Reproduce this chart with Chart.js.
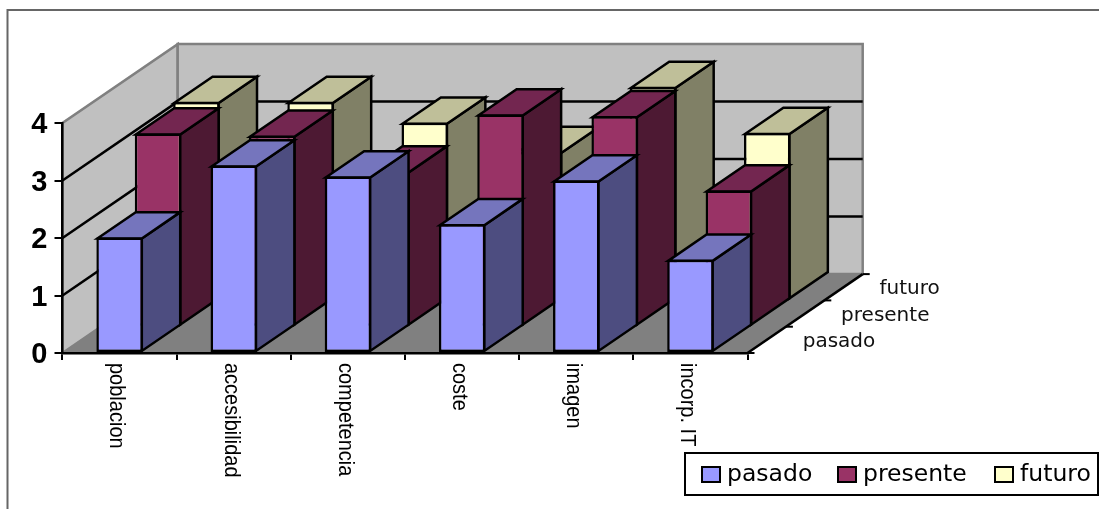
<!DOCTYPE html>
<html>
<head>
<meta charset="utf-8">
<title>Grafico 3D</title>
<style>
  html, body { margin: 0; padding: 0; background: #fff; }
  canvas { display: block; }
</style>
<script src="https://cdn.jsdelivr.net/npm/chart.js@4"></script>
</head>
<body>
<canvas id="chart" width="1099" height="509"></canvas>
<script>
const categorias = ['poblacion', 'accesibilidad', 'competencia', 'coste', 'imagen', 'incorp. IT'];
const filas = ['pasado', 'presente', 'futuro'];
const pasado = [2.01, 3.26, 3.07, 2.24, 3.0, 1.62];
const presente = [3.36, 3.32, 2.7, 3.69, 3.66, 2.37];
const futuro = [3.45, 3.45, 3.09, 2.58, 3.71, 2.91];

// frente, tapa y lateral de cada serie
const colores = [
    { frente: '#9999ff', tapa: '#7575bd', lado: '#4d4d80' },
    { frente: '#993366', tapa: '#732650', lado: '#4d1933' },
    { frente: '#ffffcc', tapa: '#bfbf99', lado: '#808066' }
];

// desplazamiento de perspectiva por cada fila de profundidad
const DX = 38.4;
const DY = -26.3;

function poly(ctx, pts, fill, stroke, lw) {
    ctx.beginPath();
    pts.forEach((p, i) => i ? ctx.lineTo(p[0], p[1]) : ctx.moveTo(p[0], p[1]));
    ctx.closePath();
    ctx.fillStyle = fill;
    ctx.fill();
    if (stroke) {
        ctx.strokeStyle = stroke;
        ctx.lineWidth = lw;
        ctx.lineJoin = 'miter';
        ctx.stroke();
    }
}

function line(ctx, x1, y1, x2, y2, color, lw) {
    ctx.beginPath();
    ctx.moveTo(x1, y1);
    ctx.lineTo(x2, y2);
    ctx.strokeStyle = color;
    ctx.lineWidth = lw;
    ctx.stroke();
}

const fondo3d = {
    id: 'fondo3d',
    beforeDraw(chart) {
        const { ctx, chartArea: a, scales: { y } } = chart;
        const bx = DX * filas.length, by = DY * filas.length;
        ctx.save();

        // marco exterior
        ctx.beginPath();
        ctx.moveTo(7.5, 509);
        ctx.lineTo(7.5, 10);
        ctx.lineTo(1099, 10);
        ctx.strokeStyle = '#666666';
        ctx.lineWidth = 2;
        ctx.stroke();

        const y0 = y.getPixelForValue(0), yMax = y.getPixelForValue(4);

        // paredes y suelo
        poly(ctx, [[a.left, y0], [a.left, yMax], [a.left + bx, yMax + by], [a.left + bx, y0 + by]], '#c0c0c0', '#808080', 2.5);
        poly(ctx, [[a.left + bx, yMax + by], [a.right + bx, yMax + by], [a.right + bx, y0 + by], [a.left + bx, y0 + by]], '#c0c0c0', '#808080', 2.5);
        poly(ctx, [[a.left, y0], [a.left + bx, y0 + by], [a.right + bx, y0 + by], [a.right, y0]], '#808080');

        // rejilla
        [1, 2, 3].forEach(v => {
            const py = y.getPixelForValue(v);
            line(ctx, a.left, py, a.left + bx, py + by, '#000', 2.5);
            line(ctx, a.left + bx, py + by, a.right + bx, py + by, '#000', 2.5);
        });

        // eje de profundidad
        line(ctx, a.right, y0, a.right + bx, y0 + by, '#000', 2.5);
        for (let i = 0; i <= filas.length; i++) {
            const tx = a.right + DX * i, ty = y0 + DY * i;
            line(ctx, tx, ty, tx + 7, ty, '#000', 2);
        }
        ctx.restore();
    },
    beforeDatasetDraw(chart, args) {
        const { ctx } = chart;
        const c = colores[args.index];
        ctx.save();
        ctx.translate(DX * args.index, DY * args.index);
        args.meta.data.forEach(el => {
            const l = el.x - el.width / 2 + 1, r = el.x + el.width / 2 - 1;
            const t = el.y + 1, b = el.base - 1;
            poly(ctx, [[r, t], [r + DX, t + DY], [r + DX, b + DY], [r, b]], c.lado, '#000', 2.5);
            poly(ctx, [[l, t], [l + DX, t + DY], [r + DX, t + DY], [r, t]], c.tapa, '#000', 2.5);
        });
    },
    afterDatasetDraw(chart) {
        chart.ctx.restore();
    },
    afterDraw(chart) {
        const { ctx, scales: { x, y } } = chart;
        const y0 = y.getPixelForValue(0);
        ctx.save();

        // etiquetas de categoria giradas hacia abajo
        ctx.fillStyle = '#000';
        ctx.font = '20px "Liberation Sans"';
        ctx.textAlign = 'left';
        ctx.textBaseline = 'middle';
        categorias.forEach((c, i) => {
            ctx.save();
            ctx.translate(x.getPixelForValue(i) - 3, y0 + 10);
            ctx.rotate(Math.PI / 2);
            ctx.scale(1, 1.12);
            ctx.fillText(c, 0, 0);
            ctx.restore();
        });

        // etiquetas de profundidad
        ctx.font = '20px "DejaVu Sans"';
        ctx.fillStyle = '#111';
        filas.forEach((f, i) => {
            ctx.fillText(f, x.right + DX * (i + 0.5) + 36, y0 + DY * (i + 0.5) + 2);
        });

        // leyenda
        ctx.fillStyle = '#fff';
        ctx.fillRect(685, 453, 413, 42);
        ctx.strokeStyle = '#000';
        ctx.lineWidth = 2;
        ctx.strokeRect(685, 453, 413, 42);
        const cajas = [702, 838, 995];
        ctx.font = '23.5px "DejaVu Sans"';
        chart.data.datasets.forEach((d, i) => {
            ctx.fillStyle = d.backgroundColor;
            ctx.fillRect(cajas[i], 467, 18, 15);
            ctx.strokeStyle = '#000';
            ctx.lineWidth = 2;
            ctx.strokeRect(cajas[i], 467, 18, 15);
            ctx.fillStyle = '#000';
            ctx.fillText(d.label, cajas[i] + 25, 475);
        });
        ctx.restore();
    }
};

new Chart(document.getElementById('chart'), {
    type: 'bar',
    data: {
        labels: categorias,
        datasets: [pasado, presente, futuro].map((valores, i) => ({
            label: filas[i],
            data: valores,
            backgroundColor: colores[i].frente,
            borderColor: '#000',
            borderWidth: 2.5,
            borderSkipped: false,
            grouped: false,
            clip: false,
            barPercentage: 0.407,
            categoryPercentage: 1
        }))
    },
    options: {
        responsive: false,
        animation: false,
        events: [],
        layout: { padding: { left: 0, right: 351.5, top: 123, bottom: 149 } },
        plugins: { legend: { display: false }, tooltip: { enabled: false } },
        scales: {
            x: {
                grid: { offset: true, drawOnChartArea: false, color: '#000', lineWidth: 2, tickLength: 7 },
                border: { color: '#000', width: 2.5 },
                ticks: { display: false },
                afterFit: s => { s.height = 7; }
            },
            y: {
                min: 0,
                max: 4,
                grid: { drawOnChartArea: false, color: '#000', lineWidth: 2, tickLength: 8 },
                border: { color: '#000', width: 2.5 },
                ticks: {
                    stepSize: 1,
                    padding: 7,
                    labelOffset: 2,
                    color: '#000',
                    font: { family: '"Liberation Sans"', size: 29, weight: 'bold' }
                },
                afterFit: s => { s.width = 62.5; }
            }
        }
    },
    plugins: [fondo3d]
});
</script>
</body>
</html>
